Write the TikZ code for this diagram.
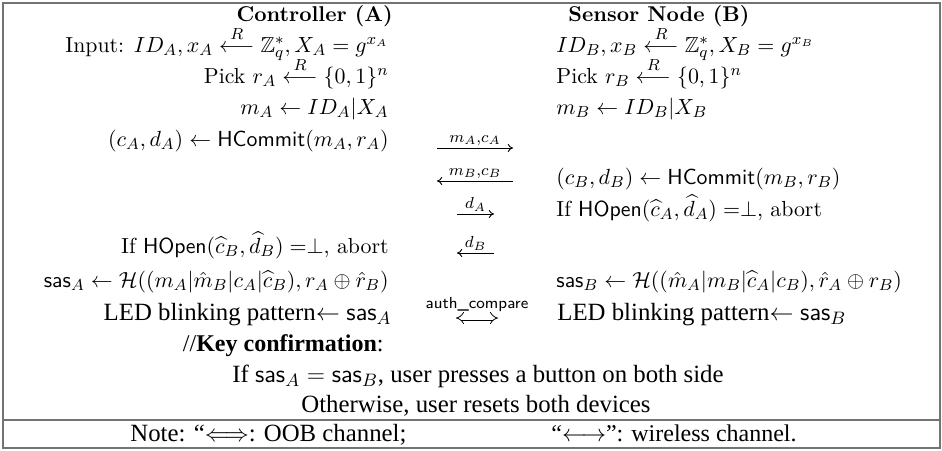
\documentclass[tikz,border=0pt]{standalone}
\usepackage{amsmath,amssymb}
\usepackage{fontspec}
\newfontfamily\tms{Liberation Serif}
\usetikzlibrary{arrows.meta}
\newcommand{\rnd}{\overset{R}{\longleftarrow}}
\begin{document}
\begin{tikzpicture}[x=0.5pt,y=-0.5pt,
  txt/.style={inner sep=0pt, font=\fontsize{10.9}{12}\selectfont},
  low/.style={inner sep=0pt, font=\tms\fontsize{12.4}{14}\selectfont},
  lft/.style={txt, anchor=base east},
  rgt/.style={txt, anchor=base west},
  msg/.style={-{To[length=2.6pt,width=4pt]}, line width=0.45pt},
  lbl/.style={inner sep=1.2pt, font=\fontsize{11.5}{12}\selectfont, above},
  frame/.style={draw=black!55, line width=0.7pt}
]
\useasboundingbox (0,0) rectangle (942,450);
% frame
\draw[frame] (3,448) -- (3,3) -- (940,3) -- (940,448) -- cycle;
\draw[frame] (3,420) -- (940,420);

% titles
\node[lft, font=\bfseries\fontsize{10.7}{12}\selectfont] (tA) at (393,21) {Controller (A)};
\node[rgt, font=\bfseries\fontsize{10.7}{12}\selectfont] (tB) at (568,21) {Sensor Node (B)};

% rows
\node[lft] (a1) at (389,52) {Input: $ID_A, x_A \rnd \mathbb{Z}_q^*, X_A = g^{x_A}$};
\node[rgt] (b1) at (556,52) {$ID_B, x_B \rnd \mathbb{Z}_q^*, X_B = g^{x_B}$};
\node[lft] (a2) at (389,83) {Pick $r_A \rnd \{0,1\}^n$};
\node[rgt] (b2) at (556,83) {Pick $r_B \rnd \{0,1\}^n$};
\node[lft] (a3) at (389,114) {$m_A \leftarrow ID_A|X_A$};
\node[rgt] (b3) at (556,114) {$m_B \leftarrow ID_B|X_B$};
\node[lft] (a4) at (389,146) {$(c_A,d_A) \leftarrow \mathsf{HCommit}(m_A,r_A)$};
\node[rgt] (b5) at (556,184) {$(c_B,d_B) \leftarrow \mathsf{HCommit}(m_B,r_B)$};
\node[rgt] (b6) at (556,216) {If $\mathsf{HOpen}(\widehat{c}_A,\widehat{d}_A) =\perp$, abort};
\node[lft] (a7) at (389,253) {If $\mathsf{HOpen}(\widehat{c}_B,\widehat{d}_B) =\perp$, abort};
\node[lft] (a8) at (389,287) {$\mathsf{sas}_A \leftarrow \mathcal{H}((m_A|\hat{m}_B|c_A|\widehat{c}_B), r_A \oplus \hat{r}_B)$};
\node[rgt] (b8) at (556,287) {$\mathsf{sas}_B \leftarrow \mathcal{H}((\hat{m}_A|m_B|\widehat{c}_A|c_B), \hat{r}_A \oplus r_B)$};
\node[low, anchor=base east] (a9) at (392,320) {LED blinking pattern$\leftarrow \mathsf{sas}_A$};
\node[low, anchor=base west] (b9) at (557,320) {LED blinking pattern$\leftarrow \mathsf{sas}_B$};
\node[low, anchor=base east, font=\tms\fontsize{12}{14}\selectfont] (k) at (384,351) {//\textbf{Key confirmation}:};
\node[low, anchor=base] (c1) at (478,382) {If $\mathsf{sas}_A = \mathsf{sas}_B$, user presses a button on both side};
\node[low, anchor=base] (c2) at (476,412) {Otherwise, user resets both devices};

% note
\node[low, anchor=base west] (n1) at (130,441) {Note: “$\Longleftrightarrow$: OOB channel;};
\node[low, anchor=base west, font=\tms\fontsize{12}{14}\selectfont] (n2) at (551,441) {“$\longleftrightarrow$”: wireless channel.};

% messages
\coordinate (m1s) at (437,148); \coordinate (m1e) at (513,148);
\coordinate (m2s) at (513,181); \coordinate (m2e) at (437,181);
\coordinate (m3s) at (457,214); \coordinate (m3e) at (494,214);
\coordinate (m4s) at (494,253); \coordinate (m4e) at (457,253);
\draw[msg] (m1s) -- node[lbl] {$\scriptstyle m_A,c_A$} (m1e);
\draw[msg] (m2s) -- node[lbl] {$\scriptstyle m_B,c_B$} (m2e);
\draw[msg] (m3s) -- node[lbl] {$\scriptstyle d_A$} (m3e);
\draw[msg] (m4s) -- node[lbl] {$\scriptstyle d_B$} (m4e);

% OOB compare
\coordinate (o1) at (456,318); \coordinate (o2) at (498,318);
\draw[double, double distance=1.7pt, line width=0.4pt, {Implies}-{Implies}] (o1) -- node[above=3pt, inner sep=0pt, font=\sffamily\fontsize{8}{9}\selectfont] {auth\_compare} (o2);
\end{tikzpicture}
\end{document}
